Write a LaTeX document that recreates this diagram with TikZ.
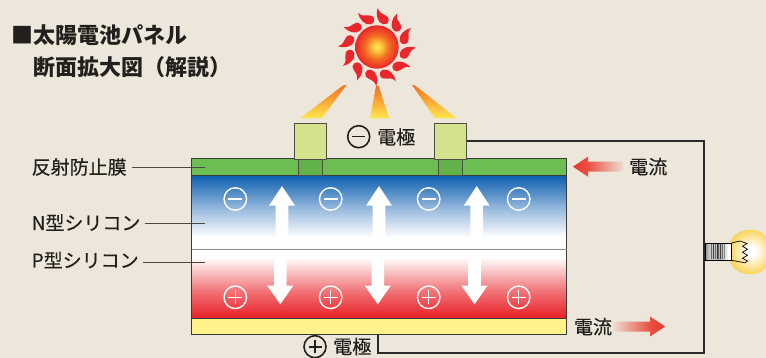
\documentclass[tikz,border=0pt]{standalone}
\usepackage{fontspec}
\newfontfamily\jp{Noto Sans CJK JP}
\newfontfamily\jpmed{Noto Sans CJK JP}[FakeBold=0.35]

% palette
\definecolor{bg}{HTML}{EDE7DB}
\definecolor{ink}{HTML}{231F1C}
\definecolor{leadc}{HTML}{4A4744}
\definecolor{wirec}{HTML}{2A2A2A}
\definecolor{arfilm}{HTML}{6CBD52}
\definecolor{arfilmdk}{HTML}{63B149}
\definecolor{elec}{HTML}{D4E38B}
\definecolor{elecline}{HTML}{4E4E46}
\definecolor{baseel}{HTML}{FFF28A}
\definecolor{panelline}{HTML}{3A3A3A}
\definecolor{nblue}{HTML}{0B5DB0}
\definecolor{pred}{HTML}{E81D23}
\definecolor{sunred}{HTML}{E8262B}
\definecolor{sunorg}{HTML}{F36A21}
\definecolor{sunyel}{HTML}{FFEB4C}
\definecolor{beamor}{HTML}{F27020}
\definecolor{beamyel}{HTML}{FFE84E}
\definecolor{glow}{HTML}{F8D458}
\definecolor{flow}{HTML}{E8372A}

% layer and light shadings
\pgfdeclareverticalshading{nlayer}{100bp}{color(0bp)=(white); color(25bp)=(white); color(33bp)=(white); color(52bp)=(nblue!42!white); color(75bp)=(nblue); color(100bp)=(nblue)}
\pgfdeclareverticalshading{player}{100bp}{color(0bp)=(pred); color(25bp)=(pred); color(45bp)=(pred!62!white); color(69bp)=(white); color(100bp)=(white)}
\pgfdeclareradialshading{sunball}{\pgfpoint{0bp}{0bp}}{color(0bp)=(sunyel); color(4bp)=(sunyel!80!sunorg); color(14bp)=(sunorg); color(25bp)=(sunred); color(50bp)=(sunred)}
\pgfdeclareradialshading{bulbglow}{\pgfpoint{2bp}{1bp}}{color(0bp)=(white); color(5bp)=(white); color(16bp)=(glow!55!white); color(25bp)=(glow); color(50bp)=(glow)}
\pgfdeclarehorizontalshading{flowleft}{100bp}{color(0bp)=(flow); color(25bp)=(flow); color(40bp)=(flow!85!bg); color(75bp)=(flow!6!bg); color(100bp)=(flow!6!bg)}
\pgfdeclarehorizontalshading{flowright}{100bp}{color(0bp)=(flow!6!bg); color(25bp)=(flow!6!bg); color(60bp)=(flow!85!bg); color(75bp)=(flow); color(100bp)=(flow)}
\pgfdeclarehorizontalshading{socketsh}{100bp}{color(0bp)=(black!45); color(25bp)=(black!45); color(33bp)=(black!20); color(55bp)=(black!30); color(68bp)=(white); color(100bp)=(white)}

\tikzset{
  lbl/.style={font=\jpmed\fontsize{19}{19}\selectfont, text=ink, inner sep=0pt},
  ttl/.style={font=\jp\bfseries\fontsize{22}{22}\selectfont, text=ink, inner sep=0pt, anchor=west},
  leader/.style={draw=leadc, line width=0.9pt},
  wire/.style={draw=wirec, line width=2pt},
  layer/.style={rectangle, inner sep=0pt, minimum width=375pt},
  elecbox/.style={rectangle, draw=elecline, line width=0.8pt, fill=elec, inner sep=0pt, minimum width=32.7pt, minimum height=35.7pt},
  contact/.style={rectangle, draw=elecline, line width=0.8pt, fill=arfilmdk, inner sep=0pt, minimum width=24.4pt, minimum height=16pt},
  negchg/.style={circle, draw=white, line width=1.4pt, minimum size=22.5pt, inner sep=0pt,
    path picture={\draw[white,line width=1.4pt] ([xshift=-7pt]path picture bounding box.center) -- ([xshift=7pt]path picture bounding box.center);}},
  poschg/.style={circle, draw=white, line width=1.4pt, minimum size=22.5pt, inner sep=0pt,
    path picture={\draw[white,line width=1.4pt] ([xshift=-7pt]path picture bounding box.center) -- ([xshift=7pt]path picture bounding box.center)
      ([yshift=-7pt]path picture bounding box.center) -- ([yshift=7pt]path picture bounding box.center);}},
  elecneg/.style={circle, draw=ink, line width=1.6pt, minimum size=22pt, inner sep=0pt,
    path picture={\draw[ink,line width=1.6pt] ([xshift=-6.5pt]path picture bounding box.center) -- ([xshift=6.5pt]path picture bounding box.center);}},
  elecpos/.style={circle, draw=ink, line width=1.6pt, minimum size=22pt, inner sep=0pt,
    path picture={\draw[ink,line width=1.6pt] ([xshift=-6.5pt]path picture bounding box.center) -- ([xshift=6.5pt]path picture bounding box.center)
      ([yshift=-6.5pt]path picture bounding box.center) -- ([yshift=6.5pt]path picture bounding box.center);}},
  beam/.style={top color=beamor, bottom color=beamyel},
  carrier/.style={fill=white},
}

\begin{document}
\begin{tikzpicture}[x=1pt,y=-1pt]
\useasboundingbox (0,0) rectangle (766,358);
\fill[bg] (0,0) rectangle (766,358);

% heading
\node[ttl] (ttl1) at (11.5,35) {■太陽電池パネル};
\node[ttl] (ttl2) at (33.5,67) {断面拡大図（解説）};

% sun with curled flame rays
\node[circle, minimum size=43.4pt, inner sep=0pt, shade, shading=sunball] (sun) at (377,47) {};
\foreach \a in {15,45,...,345}{
  \begin{scope}[shift={(sun.center)}, rotate=\a]
    \fill[sunred] (23.5,0) arc[start angle=180, end angle=0, radius=4.6]
      .. controls (33,-3.5) and (34,-7) .. (38,-9.5)
      .. controls (31,-10) and (23.5,-6) .. (23.5,0) -- cycle;
  \end{scope}}

% light falling on the cell
\shade[beam] (343,85.5) -- (346.5,85) -- (321.7,118.3) -- (300,118.3) -- cycle;
\shade[beam] (376,86) -- (378.6,86) -- (389.3,118.3) -- (370,118.3) -- cycle;
\shade[beam] (412,85) -- (415,85.5) -- (456.7,118.3) -- (435,118.3) -- cycle;

% cell layers
\node[layer, minimum height=74pt, shade, shading=nlayer] (nsi) at (379.2,212) {};
\node[layer, minimum height=70pt, shade, shading=player] (psi) at (379.2,284) {};
\node[layer, minimum height=16pt, fill=arfilm] (arc) at (379.2,167) {};
\node[layer, minimum height=15.5pt, fill=baseel] (base) at (379.2,326.75) {};
\draw[panelline, line width=0.9pt] (arc.north west) rectangle (base.south east);
\draw[panelline, line width=0.9pt] (arc.south west) -- (arc.south east);
\draw[panelline, line width=0.9pt] (base.north west) -- (base.north east);
\draw[black!45, line width=0.8pt] (nsi.south west) -- (nsi.south east);

% front electrodes
\node[elecbox] (elecL) at (310.35,141.15) {};
\node[elecbox] (elecR) at (450.35,141.15) {};
\node[contact] (contL) at (310.5,167) {};
\node[contact] (contR) at (450.5,167) {};

% charge carriers
\foreach \x [count=\i] in {235.3,330.7,428.7,518.7}{
  \node[negchg] (neg\i) at (\x,199) {};
  \node[poschg] (pos\i) at (\x,297.3) {};}
\foreach \x in {282,379,476.7}{
  \fill[carrier] (\x-6.3,247) -- (\x-6.3,205.7) -- (\x-13,205.7) -- (\x,186)
     -- (\x+13,205.7) -- (\x+6.3,205.7) -- (\x+6.3,247) -- cycle;}
\foreach \x in {280.3,377.8,474.5}{
  \fill[carrier] (\x-6.3,252) -- (\x-6.3,285.7) -- (\x-13,285.7) -- (\x,304.3)
     -- (\x+13,285.7) -- (\x+6.3,285.7) -- (\x+6.3,252) -- cycle;}

% electrode labels
\node[elecneg] (minusmark) at (358.7,136.7) {};
\node[lbl] (topel) at (396.2,137) {電極};
\node[elecpos] (plusmark) at (315,346.7) {};
\node[lbl] (botel) at (352.3,346.5) {電極};

% layer labels
\coordinate (arEnd) at (205,167.3);
\coordinate (nEnd) at (205,223.3);
\coordinate (pEnd) at (205,262.7);
\node[lbl, anchor=west] (lblAR) at (31.5,167) {反射防止膜};
\node[lbl, anchor=west] (lblN) at (31.5,222.5) {N型シリコン};
\node[lbl, anchor=west] (lblP) at (31.5,260) {P型シリコン};
\draw[leader] ([xshift=5pt]lblAR.east |- arEnd) -- (arEnd);
\draw[leader] ([xshift=4pt]lblN.east |- nEnd) -- (nEnd);
\draw[leader] ([xshift=4pt]lblP.east |- pEnd) -- (pEnd);

% bulb
\node[circle, minimum size=45pt, inner sep=0pt, shade, shading=bulbglow] (glass) at (750,252) {};
\node[rectangle, minimum width=26.7pt, minimum height=16.7pt, inner sep=0pt, shade, shading=socketsh,
      draw=black, line width=0.9pt] (socket) at (718.35,251.65) {};
\foreach \x/\g in {711.5/60,713.5/75,715.5/55,717/80,718.5/60,720/75,722/55,724/45}{
  \draw[black!\g, line width=0.7pt] (\x,244) -- (\x,259.3);}
\draw[black, line width=0.7pt, line join=miter]
  (socket.north east) -- (740,241) -- (747,243.5) -- (742.5,246.3) -- (747.5,249.3) -- (742.5,252.3)
  -- (747.5,255.3) -- (742.5,258.3) -- (747.5,261) -- (745,262.8) -- (socket.south east);

% external circuit
\coordinate (wTR) at (704,141.15);
\coordinate (wBR) at (704,352.7);
\coordinate (wBL) at (377.7,352.7);
\coordinate (wEnd) at (377.7,334.5);
\draw[wire, line join=miter] (elecR.east) -- (wTR) -- (wBR) -- (wBL) -- (wEnd);

% current flow
\shade[shading=flowleft] (573,166.7) -- (588,156.7) -- (588,161.7) -- (623,161.7)
  -- (623,171.7) -- (588,171.7) -- (588,176.7) -- cycle;
\node[lbl] (curTop) at (648.3,166.7) {電流};
\shade[shading=flowright] (665,326.5) -- (650,316.5) -- (650,321.5) -- (613.3,321.5)
  -- (613.3,331.5) -- (650,331.5) -- (650,336.5) -- cycle;
\node[lbl] (curBot) at (593,326.7) {電流};
\end{tikzpicture}
\end{document}
